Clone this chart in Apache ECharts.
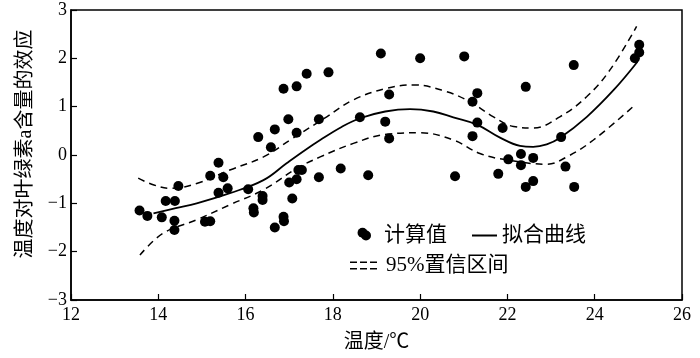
<!DOCTYPE html>
<html><head><meta charset="utf-8">
<script src="https://cdn.jsdelivr.net/npm/echarts/dist/echarts.min.js"></script>
<style>html,body{margin:0;padding:0;background:#fff}#c{width:700px;height:358px}</style>
</head><body><div id="c"></div>
<script>
// ---- data ----
const scatterX = [13.57,13.75,14.08,14.17,14.38,14.37,14.37,14.46,15.07,15.19,15.19,15.38,15.49,15.38,15.59,16.06,16.18,16.19,16.39,16.39,16.67,16.87,16.88,17.07,17.00,17.17,17.21,17.29,17.68,16.29,16.58,16.67,16.98,17.17,17.68,16.87,17.17,17.40,17.90,18.18,18.81,18.68,18.62,19.10,19.20,19.29,19.29,20.00,20.80,21.01,21.31,21.20,21.31,21.20,21.79,21.89,22.02,22.31,22.31,22.42,22.59,22.42,22.59,23.23,23.33,23.52,23.53,24.92,25.02,25.02];
const scatterY = [-1.15,-1.26,-1.29,-0.95,-0.95,-1.36,-1.55,-0.64,-1.38,-1.37,-0.43,-0.16,-0.46,-0.78,-0.69,-0.71,-1.10,-1.19,-0.85,-0.93,-1.50,-1.28,-1.37,-0.90,-0.57,-0.50,-0.31,-0.31,-0.46,0.37,0.16,0.53,0.74,0.46,0.74,1.37,1.42,1.68,1.71,-0.28,-0.42,-1.61,0.78,2.10,0.69,1.25,0.34,2.00,-0.44,2.04,1.28,1.10,0.67,0.39,-0.39,0.56,-0.09,0.02,-0.21,1.41,-0.06,-0.66,-0.54,0.37,-0.24,1.86,-0.66,2.00,2.12,2.28];
const fitX = [13.89,14.4,14.88,15.64,16.41,16.94,17.36,17.71,18.20,18.62,19.20,19.77,20.30,20.76,21.30,21.83,22.29,22.59,22.90,23.20,23.82,24.43,24.98];
const fitY = [-1.21,-1.10,-1.00,-0.79,-0.52,-0.17,0.10,0.31,0.58,0.76,0.90,0.95,0.90,0.78,0.63,0.36,0.19,0.17,0.22,0.35,0.79,1.34,1.93];
const upperX = [13.54,13.90,14.27,14.88,15.64,16.41,17.02,17.86,18.47,19.23,19.84,20.61,21.14,21.68,22.14,22.59,23.20,23.82,24.35,24.96];
const upperY = [-0.48,-0.62,-0.69,-0.59,-0.31,-0.04,0.31,0.79,1.14,1.38,1.45,1.31,1.10,0.79,0.59,0.56,0.79,1.21,1.76,2.66];
const lowerX = [13.58,14.11,14.88,15.64,16.41,17.17,17.71,18.47,19.23,20.00,20.76,21.37,21.98,22.90,23.36,23.97,24.89];
const lowerY = [-2.07,-1.62,-1.34,-1.03,-0.72,-0.28,-0.04,0.24,0.43,0.46,0.31,0.03,-0.10,-0.19,-0.04,0.31,1.01];
const xRange = [12, 26, 2];
const yRange = [-3, 3, 1];
const xTitle = '温度/℃';
const yTitle = '温度对叶绿素a含量的效应';
const nameScatter = '计算值', nameFit = '拟合曲线', nameCI = '95%置信区间';

const pairs = (xs, ys) => xs.map((x, i) => [x, ys[i]]);
const FONT = "'Liberation Serif','Times New Roman','Noto Sans CJK SC',serif";
const chart = echarts.init(document.getElementById('c'), null, {renderer: 'canvas'});
const dashIcon = 'path://M0,0h7v1.6h-7z M10,0h7v1.6h-7z M20,0h7v1.6h-7z M0,6.4h7v1.6h-7z M10,6.4h7v1.6h-7z M20,6.4h7v1.6h-7z';
const lineIcon = 'path://M0,0h25v2h-25z';
const legendText = {fontFamily: FONT, fontSize: 21, color: '#000'};

chart.setOption({
  animation: false,
  backgroundColor: '#fff',
  grid: {left: 71, right: 18, top: 10, bottom: 58, show: true, borderColor: '#000', borderWidth: 1.5, containLabel: false, outerBoundsMode: 'none'},
  xAxis: {
    type: 'value', min: xRange[0], max: xRange[1], interval: xRange[2],
    name: xTitle, nameLocation: 'middle', nameGap: 33,
    nameTextStyle: {fontFamily: FONT, fontSize: 20, color: '#000'},
    axisLine: {show: true, onZero: false, lineStyle: {color: '#000', width: 1.5}},
    axisTick: {show: true, inside: true, length: 6, lineStyle: {color: '#000', width: 1.2}},
    axisLabel: {fontFamily: FONT, fontSize: 18, color: '#000', margin: 6},
    splitLine: {show: false}
  },
  yAxis: {
    type: 'value', min: yRange[0], max: yRange[1], interval: yRange[2],
    name: yTitle, nameLocation: 'middle', nameGap: 35,
    nameTextStyle: {fontFamily: FONT, fontSize: 20, color: '#000', padding: [0, 0, 0, 22]},
    axisLine: {show: true, onZero: false, lineStyle: {color: '#000', width: 1.5}},
    axisTick: {show: true, inside: true, length: 6, lineStyle: {color: '#000', width: 1.2}},
    axisLabel: {fontFamily: FONT, fontSize: 18, color: '#000', margin: 4,
      formatter: v => String(v).replace('-', '\u2212')},
    splitLine: {show: false}
  },
  legend: [
    {data: [{name: nameScatter, icon: 'circle'}], left: 361, top: 225, padding: 0, itemWidth: 10, itemHeight: 10,
     selectedMode: false, itemStyle: {opacity: 1}, textStyle: Object.assign({padding: [0, 0, 0, 8]}, legendText)},
    {data: [{name: nameFit, icon: lineIcon}], left: 472, top: 225, padding: 0, itemWidth: 25, itemHeight: 2,
     selectedMode: false, textStyle: legendText},
    {data: [{name: nameCI, icon: dashIcon}], left: 350, top: 255, padding: 0, itemWidth: 27, itemHeight: 8,
     selectedMode: false, textStyle: Object.assign({padding: [0, 0, 0, 4]}, legendText)}
  ],
  series: [
    {name: nameScatter, type: 'scatter', data: pairs(scatterX, scatterY), symbol: 'circle', symbolSize: 10,
     itemStyle: {color: '#000', opacity: 1}, z: 5},
    {name: nameFit, type: 'line', data: pairs(fitX, fitY), smooth: 0.4, symbol: 'none',
     lineStyle: {color: '#000', width: 1.8}, itemStyle: {color: '#000'}},
    {name: nameCI, type: 'line', data: pairs(upperX, upperY), smooth: 0.4, symbol: 'none',
     lineStyle: {color: '#000', width: 1.5, type: [7, 5]}, itemStyle: {color: '#000'}},
    {name: nameCI, type: 'line', data: pairs(lowerX, lowerY), smooth: 0.4, symbol: 'none',
     lineStyle: {color: '#000', width: 1.5, type: [7, 5]}, itemStyle: {color: '#000'}}
  ]
});
</script>
</body></html>
